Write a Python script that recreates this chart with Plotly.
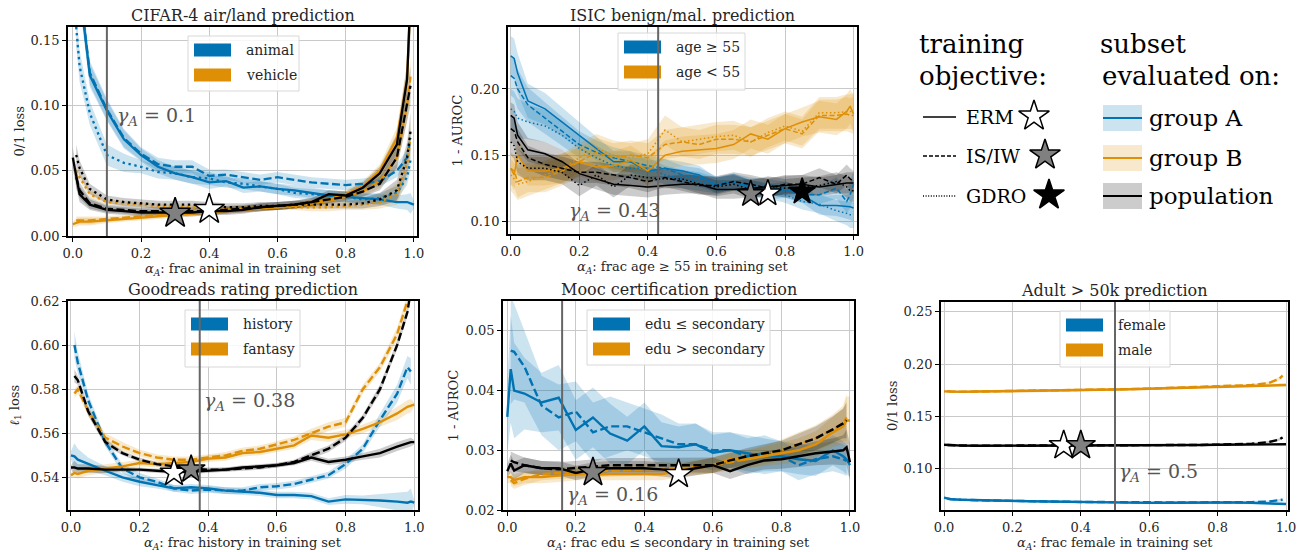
import plotly.graph_objects as go

W, H = 1298, 552
BLUE = '#0173b2'
ORANGE = '#de8f05'
BLACK = '#000000'
BAND = {'A': 'rgba(1,115,178,0.2)', 'B': 'rgba(222,143,5,0.2)', 'P': 'rgba(0,0,0,0.2)'}
LINE = {'A': BLUE, 'B': ORANGE, 'P': BLACK}
FONT = 'DejaVu Serif, Liberation Serif, serif'
TXT = '#262626'

# ---------------- data ----------------
X = [0, 0.01, 0.02, 0.05, 0.1, 0.15, 0.2, 0.25, 0.3, 0.35, 0.4, 0.45, 0.5,
     0.55, 0.6, 0.65, 0.7, 0.75, 0.8, 0.85, 0.9, 0.95, 0.98, 0.99, 1.0]
N = None

# CIFAR-4
cifar_A_erm = [0.40, 0.25, 0.19, 0.123, 0.096, 0.074, 0.062, 0.053, 0.048, 0.045, 0.041, 0.042, 0.037, 0.038, 0.036, 0.035, 0.033, 0.031, 0.030, 0.029, 0.028, 0.026, 0.026, 0.025, 0.024]
cifar_A_is = [N, 0.26, 0.19, 0.125, 0.097, 0.075, 0.063, 0.055, 0.053, 0.053, 0.046, 0.047, 0.045, 0.043, 0.045, 0.043, 0.041, 0.040, 0.039, 0.040, 0.042, 0.050, 0.060, 0.075, N]
cifar_A_gdro = [N, 0.16, 0.13, 0.094, 0.062, 0.056, 0.053, 0.049, 0.048, 0.045, 0.044, 0.041, 0.040, 0.038, 0.036, 0.033, 0.032, 0.031, 0.030, 0.028, 0.029, 0.033, 0.045, 0.058, N]
cifar_A_sd = [0.02, 0.015, 0.012, 0.009, 0.008, 0.007, 0.005, 0.005, 0.005, 0.005, 0.005, 0.004, 0.004, 0.004, 0.004, 0.004, 0.004, 0.004, 0.004, 0.004, 0.004, 0.005, 0.006, 0.008, 0.003]
cifar_B_erm = [0.009, 0.010, 0.011, 0.011, 0.012, 0.013, 0.014, 0.015, 0.016, 0.017, 0.018, 0.019, 0.020, 0.021, 0.022, 0.023, 0.025, 0.028, 0.032, 0.038, 0.050, 0.075, 0.120, 0.170, 0.250]
cifar_B_is = [N, 0.012, 0.012, 0.012, 0.013, 0.014, 0.015, 0.016, 0.017, 0.018, 0.019, 0.020, 0.021, 0.022, 0.022, 0.023, 0.025, 0.027, 0.030, 0.034, 0.042, 0.060, 0.100, 0.122, N]
cifar_B_gdro = [N, 0.050, 0.045, 0.032, 0.026, 0.025, 0.024, 0.023, 0.022, 0.022, 0.021, 0.021, 0.021, 0.021, 0.022, 0.022, 0.022, 0.022, 0.023, 0.024, 0.026, 0.032, 0.055, 0.075, N]
cifar_B_sd = [0.002, 0.003, 0.003, 0.003, 0.002, 0.002, 0.002, 0.002, 0.002, 0.002, 0.002, 0.002, 0.002, 0.002, 0.002, 0.002, 0.003, 0.003, 0.003, 0.004, 0.005, 0.008, 0.012, 0.015, 0.02]
cifar_P_erm = [0.060, 0.045, 0.032, 0.024, 0.020, 0.019, 0.018, 0.018, 0.018, 0.018, 0.019, 0.019, 0.020, 0.022, 0.023, 0.024, 0.026, 0.032, 0.031, 0.037, 0.048, 0.070, 0.120, 0.170, 0.250]
cifar_P_is = [N, 0.045, 0.035, 0.025, 0.021, 0.020, 0.019, 0.019, 0.019, 0.019, 0.019, 0.020, 0.021, 0.022, 0.023, 0.024, 0.026, 0.028, 0.030, 0.034, 0.040, 0.060, 0.100, 0.115, N]
cifar_P_gdro = [N, 0.062, 0.052, 0.036, 0.028, 0.026, 0.025, 0.024, 0.024, 0.024, 0.023, 0.022, 0.022, 0.023, 0.023, 0.024, 0.024, 0.024, 0.024, 0.025, 0.028, 0.035, 0.060, 0.080, N]
cifar_P_sd = [0.008, 0.008, 0.006, 0.004, 0.003, 0.003, 0.003, 0.003, 0.003, 0.003, 0.003, 0.003, 0.003, 0.003, 0.003, 0.003, 0.003, 0.003, 0.003, 0.004, 0.005, 0.008, 0.012, 0.015, 0.02]
cifar_star_x = [0.40, 0.30]
cifar_star_y = [0.0204, 0.0174]

# ISIC
isic_A_erm = [0.225, 0.223, 0.212, 0.191, 0.185, 0.175, 0.165, 0.155, 0.145, 0.145, 0.138, 0.140, 0.138, 0.135, 0.127, 0.130, 0.125, 0.122, 0.124, 0.120, 0.112, 0.112, 0.111, 0.111, 0.110]
isic_A_is = [0.210, 0.208, 0.200, 0.188, 0.178, 0.168, 0.158, 0.152, 0.148, 0.145, 0.142, 0.140, 0.135, 0.133, 0.128, 0.130, 0.127, 0.126, 0.124, 0.120, 0.120, 0.125, 0.115, 0.120, 0.128]
isic_A_gdro = [0.185, 0.183, 0.178, 0.175, 0.172, 0.165, 0.155, 0.148, 0.142, 0.140, 0.140, 0.135, 0.132, 0.130, 0.127, 0.130, 0.125, 0.123, 0.120, 0.115, 0.113, 0.108, 0.106, 0.105, 0.105]
isic_A_sd = [0.015, 0.015, 0.015, 0.013, 0.012, 0.011, 0.010, 0.009, 0.008, 0.008, 0.008, 0.007, 0.007, 0.007, 0.006, 0.006, 0.006, 0.006, 0.006, 0.006, 0.007, 0.008, 0.009, 0.010, 0.010]
isic_B_erm = [0.140, 0.135, 0.150, 0.138, 0.138, 0.140, 0.145, 0.141, 0.142, 0.146, 0.138, 0.150, 0.153, 0.154, 0.155, 0.158, 0.166, 0.162, 0.170, 0.175, 0.179, 0.177, 0.183, 0.187, 0.181]
isic_B_is = [0.140, 0.138, 0.130, 0.133, 0.133, 0.138, 0.145, 0.152, 0.148, 0.150, 0.148, 0.158, 0.160, 0.158, 0.162, 0.162, 0.160, 0.165, 0.170, 0.166, 0.180, 0.180, 0.181, 0.180, 0.180]
isic_B_gdro = [0.135, 0.132, 0.128, 0.130, 0.135, 0.140, 0.148, 0.155, 0.150, 0.148, 0.151, 0.169, 0.160, 0.162, 0.164, 0.165, 0.160, 0.167, 0.172, 0.168, 0.182, 0.182, 0.183, 0.183, 0.183]
isic_B_sd = [0.012, 0.012, 0.012, 0.011, 0.011, 0.011, 0.011, 0.011, 0.011, 0.011, 0.011, 0.011, 0.011, 0.011, 0.011, 0.011, 0.011, 0.011, 0.011, 0.011, 0.012, 0.012, 0.013, 0.013, 0.014]
isic_P_erm = [0.180, 0.178, 0.165, 0.154, 0.151, 0.145, 0.136, 0.132, 0.128, 0.127, 0.126, 0.127, 0.128, 0.128, 0.124, 0.124, 0.125, 0.126, 0.127, 0.128, 0.126, 0.128, 0.129, 0.129, 0.129]
isic_P_is = [0.170, 0.168, 0.160, 0.148, 0.143, 0.140, 0.137, 0.137, 0.135, 0.133, 0.130, 0.133, 0.130, 0.127, 0.127, 0.130, 0.128, 0.125, 0.128, 0.128, 0.133, 0.128, 0.135, 0.132, 0.130]
isic_P_gdro = [0.160, 0.157, 0.145, 0.140, 0.140, 0.137, 0.127, 0.135, 0.126, 0.135, 0.133, 0.132, 0.132, 0.128, 0.126, 0.128, 0.124, 0.127, 0.125, 0.126, 0.127, 0.130, 0.126, 0.123, 0.123]
isic_P_sd = [0.010, 0.010, 0.010, 0.009, 0.009, 0.009, 0.008, 0.008, 0.008, 0.008, 0.008, 0.007, 0.007, 0.007, 0.007, 0.007, 0.007, 0.007, 0.007, 0.007, 0.007, 0.007, 0.008, 0.008, 0.008]
isic_star_x = [0.75, 0.70, 0.85]
isic_star_y = [0.1211, 0.1206, 0.1224]

# Goodreads
gr_A_erm = [0.5500, 0.5495, 0.5480, 0.5460, 0.5430, 0.5400, 0.5380, 0.5365, 0.5350, 0.5355, 0.5350, 0.5340, 0.5335, 0.5330, 0.5320, 0.5320, 0.5315, 0.5290, 0.5300, 0.5298, 0.5295, 0.5290, 0.5285, 0.5290, 0.5285]
gr_A_is = [N, 0.600, 0.592, 0.575, 0.556, 0.544, 0.540, 0.538, 0.535, 0.534, 0.5345, 0.534, 0.534, 0.5355, 0.536, 0.537, 0.539, 0.541, 0.546, 0.553, 0.566, 0.578, 0.590, 0.588, N]
gr_A_sd = [0.002, 0.006, 0.005, 0.003, 0.002, 0.002, 0.002, 0.0015, 0.0015, 0.0015, 0.0015, 0.0015, 0.0015, 0.0015, 0.0015, 0.0015, 0.0015, 0.0015, 0.002, 0.002, 0.003, 0.004, 0.005, 0.006, 0.001]
gr_B_erm = [0.541, 0.542, 0.5415, 0.543, 0.544, 0.545, 0.5465, 0.546, 0.5465, 0.547, 0.5485, 0.549, 0.551, 0.5515, 0.553, 0.5545, 0.559, 0.558, 0.5595, 0.562, 0.565, 0.569, 0.572, 0.5725, 0.573]
gr_B_is = [N, 0.578, 0.580, 0.570, 0.558, 0.554, 0.551, 0.549, 0.548, 0.548, 0.549, 0.550, 0.552, 0.553, 0.555, 0.557, 0.560, 0.563, 0.565, 0.580, 0.590, 0.605, 0.620, 0.630, N]
gr_B_sd = [0.001, 0.002, 0.002, 0.002, 0.002, 0.002, 0.0015, 0.0015, 0.0015, 0.0015, 0.0015, 0.0015, 0.0015, 0.0015, 0.0015, 0.0015, 0.002, 0.002, 0.002, 0.002, 0.002, 0.003, 0.003, 0.003, 0.001]
gr_P_erm = [0.5445, 0.5445, 0.544, 0.544, 0.5435, 0.5435, 0.5435, 0.543, 0.5425, 0.5425, 0.543, 0.5435, 0.5445, 0.545, 0.5455, 0.5465, 0.549, 0.547, 0.548, 0.5495, 0.551, 0.554, 0.5555, 0.556, 0.556]
gr_P_is = [N, 0.586, 0.584, 0.570, 0.556, 0.551, 0.548, 0.546, 0.545, 0.544, 0.5435, 0.5435, 0.544, 0.5445, 0.5455, 0.547, 0.550, 0.553, 0.558, 0.567, 0.580, 0.600, 0.615, 0.625, N]
gr_P_sd = [0.001, 0.003, 0.002, 0.002, 0.0015, 0.001, 0.001, 0.001, 0.001, 0.001, 0.001, 0.001, 0.001, 0.001, 0.001, 0.001, 0.0015, 0.0015, 0.0015, 0.0015, 0.002, 0.002, 0.002, 0.002, 0.001]
gr_star_x = [0.30, 0.35]
gr_star_y = [0.5421, 0.5436]

# Mooc
mooc_A_erm = [0.0356, 0.0436, 0.0400, 0.0395, 0.0380, 0.0388, 0.0334, 0.0355, 0.0328, 0.0316, 0.0340, 0.0307, 0.0305, 0.0310, 0.0296, 0.0300, 0.0295, 0.0290, 0.0290, 0.0285, 0.0282, 0.0300, 0.0290, 0.0285, 0.0275]
mooc_A_is = [N, 0.0467, 0.0465, 0.0440, 0.0375, 0.0355, 0.0365, 0.0330, 0.0340, 0.0340, 0.0330, 0.0320, 0.0310, 0.0310, 0.0300, 0.0300, 0.0290, 0.0295, 0.0290, 0.0275, 0.0285, 0.0290, 0.0285, 0.0282, N]
mooc_A_sd = [0.006, 0.009, 0.008, 0.006, 0.005, 0.0055, 0.005, 0.005, 0.005, 0.004, 0.004, 0.004, 0.0035, 0.0035, 0.003, 0.003, 0.003, 0.003, 0.0025, 0.0025, 0.0025, 0.0025, 0.0025, 0.0025, 0.002]
mooc_B_erm = [0.0255, 0.0255, 0.0250, 0.0255, 0.0255, 0.0257, 0.0260, 0.0260, 0.0260, 0.0260, 0.0260, 0.0260, 0.0265, 0.0270, 0.0275, 0.0285, 0.0285, 0.0290, 0.0295, 0.0300, 0.0310, 0.0330, 0.0340, 0.0350, 0.0350]
mooc_B_is = [N, 0.0250, 0.0245, 0.0252, 0.0260, 0.0262, 0.0263, 0.0265, 0.0265, 0.0267, 0.0268, 0.0270, 0.0270, 0.0272, 0.0275, 0.0280, 0.0285, 0.0292, 0.0300, 0.0310, 0.0320, 0.0335, 0.0345, 0.0355, N]
mooc_B_sd = [0.001, 0.001, 0.001, 0.001, 0.001, 0.001, 0.001, 0.001, 0.001, 0.001, 0.001, 0.001, 0.001, 0.0012, 0.0013, 0.0014, 0.0015, 0.0016, 0.0018, 0.002, 0.0022, 0.0025, 0.003, 0.004, 0.004]
mooc_P_erm = [0.0265, 0.0278, 0.0266, 0.0275, 0.0270, 0.0270, 0.0262, 0.0268, 0.0270, 0.0270, 0.0270, 0.0268, 0.0265, 0.0270, 0.0275, 0.0265, 0.0275, 0.0283, 0.0285, 0.0290, 0.0295, 0.0298, 0.0300, 0.0305, 0.0280]
mooc_P_is = [N, 0.0283, 0.0280, 0.0275, 0.0270, 0.0268, 0.0270, 0.0272, 0.0275, 0.0275, 0.0275, 0.0275, 0.0275, 0.0275, 0.0275, 0.0283, 0.0290, 0.0295, 0.0300, 0.0310, 0.0320, 0.0335, 0.0345, 0.0350, N]
mooc_P_sd = [0.0012, 0.0015, 0.0015, 0.0013, 0.0012, 0.0012, 0.0012, 0.0012, 0.0012, 0.0012, 0.0012, 0.0012, 0.0012, 0.0012, 0.0013, 0.0013, 0.0014, 0.0015, 0.0016, 0.0018, 0.002, 0.0022, 0.0025, 0.003, 0.003]
mooc_star_x = [0.50, 0.25]
mooc_star_y = [0.0260, 0.0263]

# Adult
adult_A_erm = [0.0725, 0.0715, 0.0710, 0.0705, 0.0700, 0.0695, 0.0690, 0.0690, 0.0688, 0.0685, 0.0682, 0.0680, 0.0678, 0.0677, 0.0675, 0.0676, 0.0678, 0.0680, 0.0680, 0.0678, 0.0675, 0.0672, 0.0670, 0.0668, 0.0665]
adult_A_is = [N, 0.0713, 0.0710, 0.0705, 0.0700, 0.0696, 0.0692, 0.0690, 0.0688, 0.0686, 0.0684, 0.0682, 0.0680, 0.0679, 0.0678, 0.0678, 0.0679, 0.0680, 0.0680, 0.0680, 0.0682, 0.0688, 0.0698, 0.0705, N]
adult_A_sd = [0.0010, 0.0010, 0.0010, 0.0010, 0.0010, 0.0010, 0.0010, 0.0010, 0.0010, 0.0010, 0.0010, 0.0010, 0.0010, 0.0010, 0.0010, 0.0010, 0.0010, 0.0010, 0.0010, 0.0010, 0.0010, 0.0010, 0.0012, 0.0012, 0.0010]
adult_B_erm = [0.1740, 0.1738, 0.1736, 0.1735, 0.1738, 0.1740, 0.1740, 0.1742, 0.1745, 0.1748, 0.1750, 0.1755, 0.1758, 0.1760, 0.1765, 0.1770, 0.1775, 0.1780, 0.1785, 0.1790, 0.1795, 0.1800, 0.1802, 0.1801, 0.1800]
adult_B_is = [N, 0.1742, 0.1738, 0.1736, 0.1738, 0.1740, 0.1742, 0.1744, 0.1746, 0.1749, 0.1752, 0.1756, 0.1759, 0.1762, 0.1766, 0.1771, 0.1776, 0.1781, 0.1786, 0.1791, 0.1800, 0.1820, 0.1860, 0.1890, N]
adult_B_sd = [0.0012, 0.0012, 0.0012, 0.0012, 0.0012, 0.0012, 0.0012, 0.0012, 0.0012, 0.0012, 0.0012, 0.0012, 0.0012, 0.0012, 0.0012, 0.0012, 0.0012, 0.0012, 0.0012, 0.0012, 0.0013, 0.0014, 0.0016, 0.0016, 0.0012]
adult_P_erm = [0.1230, 0.1228, 0.1225, 0.1222, 0.1220, 0.1220, 0.1220, 0.1220, 0.1220, 0.1220, 0.1220, 0.1220, 0.1220, 0.1221, 0.1222, 0.1223, 0.1225, 0.1227, 0.1230, 0.1232, 0.1234, 0.1236, 0.1236, 0.1235, 0.1235]
adult_P_is = [N, 0.1228, 0.1225, 0.1223, 0.1221, 0.1221, 0.1221, 0.1221, 0.1221, 0.1221, 0.1221, 0.1221, 0.1221, 0.1222, 0.1223, 0.1224, 0.1226, 0.1228, 0.1231, 0.1235, 0.1240, 0.1255, 0.1280, 0.1300, N]
adult_P_sd = [0.0008, 0.0008, 0.0008, 0.0008, 0.0008, 0.0008, 0.0008, 0.0008, 0.0008, 0.0008, 0.0008, 0.0008, 0.0008, 0.0008, 0.0008, 0.0008, 0.0008, 0.0008, 0.0008, 0.0008, 0.0009, 0.0010, 0.0012, 0.0012, 0.0008]
adult_star_x = [0.35, 0.40]
adult_star_y = [0.1223, 0.1223]

# ---------------- layout helpers ----------------
def px(x):
    return x / W


def py(y):
    return 1 - y / H


STAR_FILL = {'erm': 'white', 'is': '#808080', 'gdro': 'black'}

panels = [
    dict(title='CIFAR-4 air/land prediction', ytitle='0/1 loss', ytx=19,
         xtitle='<i>α<sub>A</sub></i>: frac animal in training set',
         box=(68, 27, 417, 236), xr=[-0.014, 1.009], yr=[0, 0.16], dtick=0.05, yfmt='.2f',
         series={'A': (cifar_A_erm, cifar_A_is, cifar_A_gdro, cifar_A_sd),
                 'B': (cifar_B_erm, cifar_B_is, cifar_B_gdro, cifar_B_sd),
                 'P': (cifar_P_erm, cifar_P_is, cifar_P_gdro, cifar_P_sd)},
         lw=2.3, stars=(cifar_star_x, cifar_star_y, ['erm', 'is']), ssize=23,
         gamma=0.1, gtext='<i>γ<sub>A</sub></i> = 0.1', gpos=(0.125, 0.0913),
         leg=('animal', 'vehicle'), legbox=(188, 36, 299, 91)),
    dict(title='ISIC benign/mal. prediction', ytitle='1 - AUROC', ytx=457,
         xtitle='<i>α<sub>A</sub></i>: frac age ≥ 55 in training set',
         box=(508, 27, 857, 234), xr=[-0.008, 1.01], yr=[0.0904, 0.2468], dtick=0.05, yfmt='.2f',
         series={'A': (isic_A_erm, isic_A_is, isic_A_gdro, isic_A_sd),
                 'B': (isic_B_erm, isic_B_is, isic_B_gdro, isic_B_sd),
                 'P': (isic_P_erm, isic_P_is, isic_P_gdro, isic_P_sd)},
         lw=1.5, stars=(isic_star_x, isic_star_y, ['erm', 'is', 'gdro']), ssize=20,
         gamma=0.43, gtext='<i>γ<sub>A</sub></i> = 0.43', gpos=(0.165, 0.1073),
         leg=('age ≥ 55', 'age &lt; 55'), legbox=(618, 33, 745, 90)),
    dict(title='Goodreads rating prediction', ytitle='<i>ℓ</i><sub>1</sub> loss', ytx=15,
         xtitle='<i>α<sub>A</sub></i>: frac history in training set',
         box=(68, 301, 418, 510), xr=[-0.0087, 1.0108], yr=[0.5252, 0.62], dtick=0.02, yfmt='.2f',
         series={'A': (gr_A_erm, gr_A_is, None, gr_A_sd),
                 'B': (gr_B_erm, gr_B_is, None, gr_B_sd),
                 'P': (gr_P_erm, gr_P_is, None, gr_P_sd)},
         lw=2.4, stars=(gr_star_x, gr_star_y, ['erm', 'is']), ssize=21,
         gamma=0.375, gtext='<i>γ<sub>A</sub></i> = 0.38', gpos=(0.382, 0.5743),
         leg=('history', 'fantasy'), legbox=(185, 310, 300, 367)),
    dict(title='Mooc certification prediction', ytitle='1 - AUROC', ytx=453,
         xtitle='<i>α<sub>A</sub></i>: frac edu ≤ secondary in training set',
         box=(503, 301, 854, 510), xr=[-0.0125, 1.0117], yr=[0.02, 0.055], dtick=0.01, yfmt='.2f',
         series={'A': (mooc_A_erm, mooc_A_is, None, mooc_A_sd),
                 'B': (mooc_B_erm, mooc_B_is, None, mooc_B_sd),
                 'P': (mooc_P_erm, mooc_P_is, None, mooc_P_sd)},
         lw=2.4, stars=(mooc_star_x, mooc_star_y, ['erm', 'is']), ssize=22,
         gamma=0.16, gtext='<i>γ<sub>A</sub></i> = 0.16', gpos=(0.168, 0.0225),
         leg=('edu ≤ secondary', 'edu &gt; secondary'), legbox=(587, 310, 770, 365)),
    dict(title='Adult &gt; 50k prediction', ytitle='0/1 loss', ytx=892,
         xtitle='<i>α<sub>A</sub></i>: frac female in training set',
         box=(941, 302, 1288, 510), xr=[-0.0088, 1.0058], yr=[0.0607, 0.2593], dtick=0.05, yfmt='.2f',
         series={'A': (adult_A_erm, adult_A_is, None, adult_A_sd),
                 'B': (adult_B_erm, adult_B_is, None, adult_B_sd),
                 'P': (adult_P_erm, adult_P_is, None, adult_P_sd)},
         lw=2.4, stars=(adult_star_x, adult_star_y, ['erm', 'is']), ssize=22,
         gamma=0.5, gtext='<i>γ<sub>A</sub></i> = 0.5', gpos=(0.505, 0.0968),
         leg=('female', 'male'), legbox=(1060, 311, 1170, 367)),
]

fig = go.Figure()
layout = {}
shapes = []
annotations = []
TICKF = dict(family=FONT, size=13, color=TXT)
LABF = dict(family=FONT, size=13, color=TXT)

for i, p in enumerate(panels):
    n = i + 1
    xs_id = 'x' if n == 1 else f'x{n}'
    ys_id = 'y' if n == 1 else f'y{n}'
    x0, y0, x1, y1 = p['box']
    lw = p['lw']
    if lw < 2:
        dashes = {'erm': 'solid', 'is': '5px,2.5px', 'gdro': '1.5px,2.5px'}
    else:
        dashes = {'erm': 'solid', 'is': '8px,3.5px', 'gdro': '2.4px,3.6px'}

    # bands
    for g in 'ABP':
        erm, is_, gdro, sd = p['series'][g]
        for ys in (erm, is_, gdro):
            if ys is None:
                continue
            xs = [x for x, v in zip(X, ys) if v is not None]
            up = [v + s for v, s in zip(ys, sd) if v is not None]
            lo = [v - s for v, s in zip(ys, sd) if v is not None]
            fig.add_trace(go.Scatter(x=xs + xs[::-1], y=up + lo[::-1], fill='toself',
                                     fillcolor=BAND[g], line=dict(width=0), mode='lines',
                                     hoverinfo='skip', showlegend=False,
                                     xaxis=xs_id, yaxis=ys_id))
    # lines
    for g in 'ABP':
        erm, is_, gdro, sd = p['series'][g]
        for key, ys in (('gdro', gdro), ('is', is_), ('erm', erm)):
            if ys is None:
                continue
            xs = [x for x, v in zip(X, ys) if v is not None]
            yv = [v for v in ys if v is not None]
            fig.add_trace(go.Scatter(x=xs, y=yv, mode='lines',
                                     line=dict(color=LINE[g], width=lw, dash=dashes[key]),
                                     showlegend=False, xaxis=xs_id, yaxis=ys_id))
    # stars
    sx, sy, kinds = p['stars']
    for xv, yv, k in zip(sx, sy, kinds):
        fig.add_trace(go.Scatter(x=[xv], y=[yv], mode='markers',
                                 marker=dict(symbol='star', size=p['ssize'], color=STAR_FILL[k],
                                             line=dict(color='black', width=1.5)),
                                 showlegend=False, xaxis=xs_id, yaxis=ys_id, cliponaxis=False))

    xkey = 'xaxis' if n == 1 else f'xaxis{n}'
    ykey = 'yaxis' if n == 1 else f'yaxis{n}'
    common = dict(showline=True, linecolor='black', linewidth=1.8, mirror=True,
                  ticks='outside', ticklen=4, tickwidth=1.2, tickcolor='black',
                  showgrid=True, gridcolor='#c9c9c9', gridwidth=1, zeroline=False,
                  automargin=False, tickfont=TICKF)
    layout[xkey] = dict(domain=[px(x0), px(x1)], range=p['xr'], anchor=ys_id,
                        tick0=0, dtick=0.2, tickformat='.1f', **common)
    layout[ykey] = dict(domain=[py(y1), py(y0)], range=p['yr'], anchor=xs_id,
                        tick0=0, dtick=p['dtick'], tickformat=p['yfmt'], **common)

    # panel title
    annotations.append(dict(text=p['title'], x=px((x0 + x1) / 2), y=py(y0 - 12), xref='paper', yref='paper',
                            xanchor='center', yanchor='middle', showarrow=False,
                            font=dict(family=FONT, size=16, color=TXT)))
    # axis titles
    annotations.append(dict(text=p['xtitle'], x=px((x0 + x1) / 2), y=py(y1 + 33), xref='paper', yref='paper',
                            xanchor='center', yanchor='middle', showarrow=False, font=LABF))
    annotations.append(dict(text=p['ytitle'], x=px(p['ytx']), y=py((y0 + y1) / 2), xref='paper', yref='paper',
                            xanchor='center', yanchor='middle', showarrow=False, textangle=-90, font=LABF))

    # inner legend
    bx0, by0, bx1, by1 = p['legbox']
    shapes.append(dict(type='rect', xref='paper', yref='paper', x0=px(bx0), x1=px(bx1),
                       y0=py(by1), y1=py(by0), fillcolor='rgba(255,255,255,0.85)',
                       line=dict(color='#d8d8d8', width=1), layer='above'))
    for j, (lab, col) in enumerate(zip(p['leg'], [BLUE, ORANGE])):
        cy = by0 + 14 + j * 25
        shapes.append(dict(type='rect', xref='paper', yref='paper', x0=px(bx0 + 6), x1=px(bx0 + 43),
                           y0=py(cy + 6.5), y1=py(cy - 6.5), fillcolor=col,
                           line=dict(color=col, width=0), layer='above'))
        annotations.append(dict(text=lab, x=px(bx0 + 56), y=py(cy), xref='paper', yref='paper',
                                xanchor='left', yanchor='middle', showarrow=False,
                                font=dict(family=FONT, size=14, color=TXT)))

    # gamma line + text
    shapes.append(dict(type='line', xref=xs_id, yref=f'{ys_id} domain', x0=p['gamma'], x1=p['gamma'],
                       y0=0, y1=1, line=dict(color='#666666', width=2), layer='above'))
    annotations.append(dict(text=p['gtext'], x=p['gpos'][0], y=p['gpos'][1], xref=xs_id, yref=ys_id,
                            xanchor='left', yanchor='middle', showarrow=False,
                            font=dict(family=FONT, size=19, color='#555555')))

# ---------------- top-right legend (overlay axis in pixel coords) ----------------
layout['xaxis6'] = dict(domain=[0, 1], range=[0, W], visible=False, anchor='y6', fixedrange=True, automargin=False)
layout['yaxis6'] = dict(domain=[0, 1], range=[H, 0], visible=False, anchor='x6', fixedrange=True, automargin=False)

big = dict(family=FONT, size=26, color='black')
for txt, x, y in [('training', 917, 44), ('objective:', 917, 76), ('subset', 1098, 44), ('evaluated on:', 1100, 76)]:
    annotations.append(dict(text=txt, x=x, y=y, xref='x6', yref='y6', xanchor='left', yanchor='middle',
                            showarrow=False, font=big))

obj_rows = [('ERM', 'solid', 117, 1034, 'erm'), ('IS/IW', '4px,2px', 156, 1045, 'is'),
            ('GDRO', '1px,1.6px', 196, 1049, 'gdro')]
for lab, dash, cy, sxp, k in obj_rows:
    fig.add_trace(go.Scatter(x=[923, 956], y=[cy, cy], mode='lines', line=dict(color='black', width=1.5, dash=dash),
                             showlegend=False, xaxis='x6', yaxis='y6', hoverinfo='skip'))
    annotations.append(dict(text=lab, x=964, y=cy, xref='x6', yref='y6', xanchor='left', yanchor='middle',
                            showarrow=False, font=dict(family=FONT, size=19, color='black')))
    fig.add_trace(go.Scatter(x=[sxp], y=[cy - 1], mode='markers',
                             marker=dict(symbol='star', size=23, color=STAR_FILL[k], line=dict(color='black', width=1.5)),
                             showlegend=False, xaxis='x6', yaxis='y6', hoverinfo='skip'))

grp_rows = [('group A', 'A', 118), ('group B', 'B', 158), ('population', 'P', 196)]
for lab, g, cy in grp_rows:
    shapes.append(dict(type='rect', xref='x6', yref='y6', x0=1103, x1=1142, y0=cy - 13, y1=cy + 13,
                       fillcolor=BAND[g], line=dict(width=0)))
    shapes.append(dict(type='line', xref='x6', yref='y6', x0=1103, x1=1142, y0=cy, y1=cy,
                       line=dict(color=LINE[g], width=2)))
    annotations.append(dict(text=lab, x=1147, y=cy, xref='x6', yref='y6', xanchor='left', yanchor='middle',
                            showarrow=False, font=dict(family=FONT, size=23, color='black')))

fig.update_layout(width=W, height=H, margin=dict(l=0, r=0, t=0, b=0, autoexpand=False),
                  paper_bgcolor='white', plot_bgcolor='rgba(0,0,0,0)',
                  showlegend=False, shapes=shapes, annotations=annotations,
                  font=dict(family=FONT, color=TXT), **layout)

fig.write_html('out.html', config={'displayModeBar': False},
               post_script="document.body.style.margin='0';document.body.style.padding='0';"
                           "document.body.style.overflow='hidden';")
